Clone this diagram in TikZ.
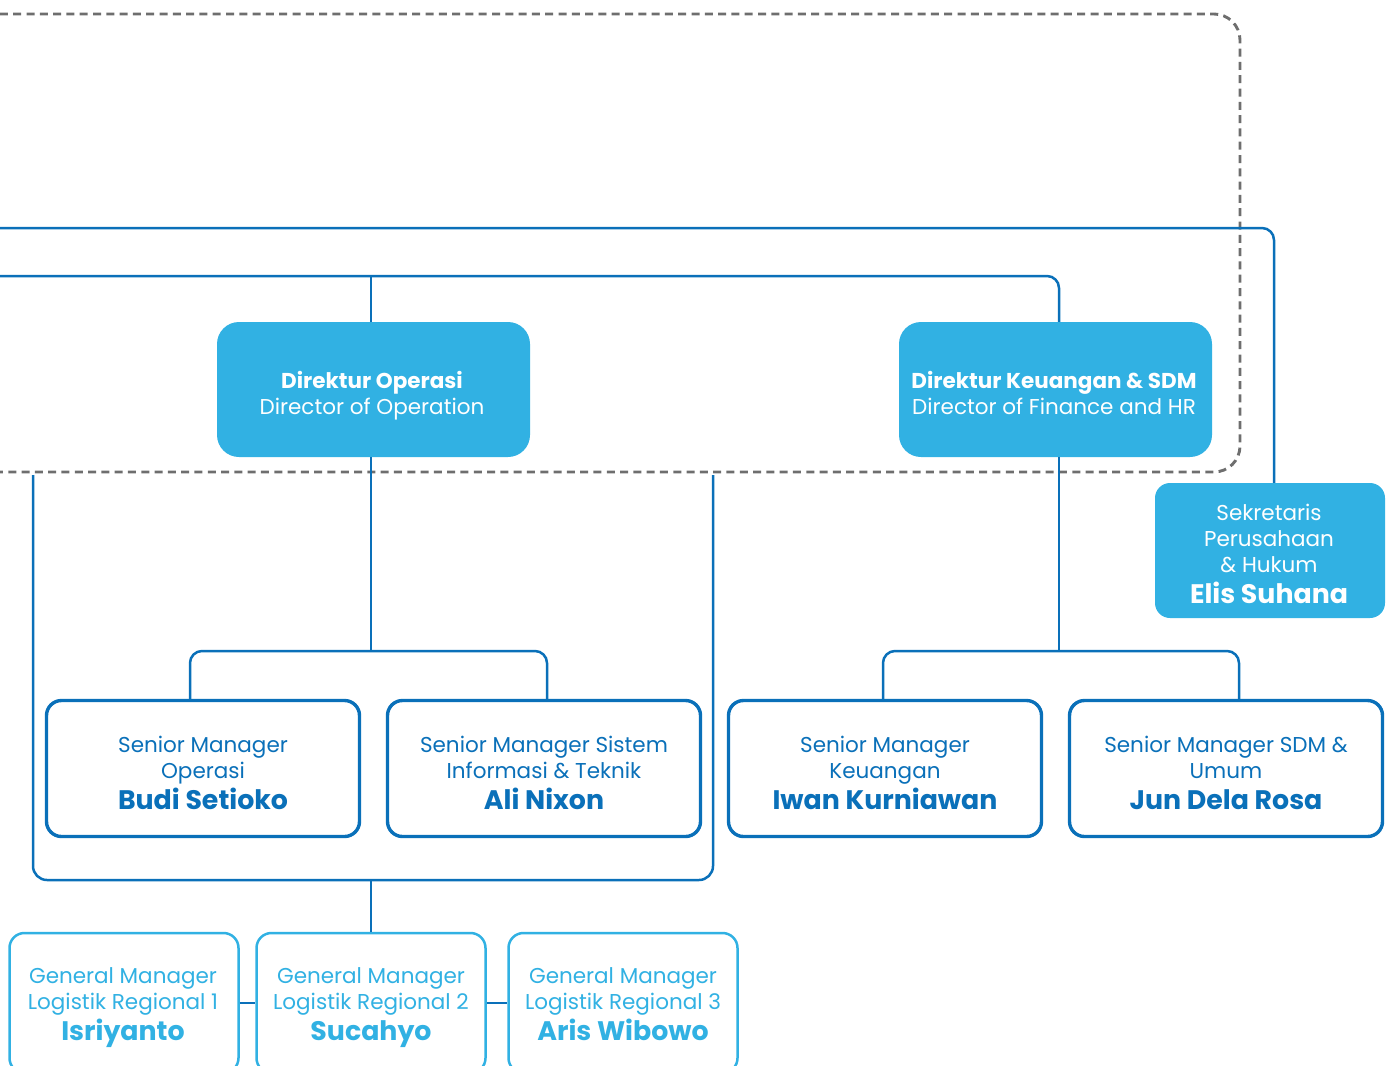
\documentclass[tikz,border=0pt]{standalone}
\usepackage{fontspec}
\setmainfont{Poppins}
\definecolor{navy}{HTML}{0A70B9}
\definecolor{sky}{HTML}{31B1E3}
\definecolor{dashgray}{HTML}{6E6E6E}
\tikzset{
  conn/.style={draw=navy, line width=2.5pt},
  director/.style={fill=sky, rounded corners=22pt, minimum width=313pt, minimum height=135pt, inner sep=0pt},
  secbox/.style={fill=sky, rounded corners=15pt, minimum width=230pt, minimum height=135pt, inner sep=0pt},
  senior/.style={draw=navy, line width=3.4pt, fill=white, rounded corners=15pt,
    minimum width=313pt, minimum height=136pt, inner sep=0pt},
  general/.style={draw=sky, line width=2.5pt, fill=white, rounded corners=15pt,
    minimum width=229pt, minimum height=140pt, inner sep=0pt},
  txt/.style={anchor=north, align=center, inner sep=0pt, font=\fontsize{21.5}{26}\selectfont}
}
% one line of regular text and one line with a person's name
\newcommand{\txtline}[1]{\strut #1}
\newcommand{\pn}[1]{{\fontsize{26.8}{32}\selectfont\bfseries\strut #1}}
\begin{document}
\begin{tikzpicture}[x=1pt, y=-1pt]
\useasboundingbox (0,0) rectangle (1391,1065);
\clip (0,0) rectangle (1391,1065);

% dashed grouping frame behind the directors
\draw[dashgray, line width=2.9pt, dash pattern=on 8pt off 5.3pt, rounded corners=26pt]
  (-40,14) -- (1240,14) -- (1240,472) -- (-40,472);

% boxes
\node[director] (dop) at (373.5,389.5) {};
\node[director] (dkeu) at (1055.5,389.5) {};
\node[secbox] (sek) at (1270,550.5) {};
\node[senior] (sm1) at (203,768.5) {};
\node[senior] (sm2) at (544,768.5) {};
\node[senior] (sm3) at (885,768.5) {};
\node[senior] (sm4) at (1226,768.5) {};
\node[general] (gm1) at (124,1003) {};
\node[general] (gm2) at (371,1003) {};
\node[general] (gm3) at (623,1003) {};

% box texts
\node[txt, text=white] (dop-t) at (372,369.8) {\txtline{\textbf{Direktur Operasi}}\\\txtline{Director of Operation}};
\node[txt, text=white] (dkeu-t) at (1054,369.8) {\txtline{\textbf{Direktur Keuangan \& SDM}}\\\txtline{Director of Finance and HR}};
\node[txt, text=white] (sek-t) at (1269,501.8) {\txtline{Sekretaris}\\\txtline{Perusahaan}\\\txtline{\& Hukum}\\\pn{Elis Suhana}};

\node[txt, text=navy] (sm1-t) at (203,733.8) {\txtline{Senior Manager}\\\txtline{Operasi}\\\pn{Budi Setioko}};
\node[txt, text=navy] (sm2-t) at (544,733.8) {\txtline{Senior Manager Sistem}\\\txtline{Informasi \& Teknik}\\\pn{Ali Nixon}};
\node[txt, text=navy] (sm3-t) at (885,733.8) {\txtline{Senior Manager}\\\txtline{Keuangan}\\\pn{Iwan Kurniawan}};
\node[txt, text=navy] (sm4-t) at (1226,733.8) {\txtline{Senior Manager SDM \&}\\\txtline{Umum}\\\pn{Jun Dela Rosa}};

\node[txt, text=sky] (gm1-t) at (123,964.8) {\txtline{General Manager}\\\txtline{Logistik Regional 1}\\\pn{Isriyanto}};
\node[txt, text=sky] (gm2-t) at (371,964.8) {\txtline{General Manager}\\\txtline{Logistik Regional 2}\\\pn{Sucahyo}};
\node[txt, text=sky] (gm3-t) at (623,964.8) {\txtline{General Manager}\\\txtline{Logistik Regional 3}\\\pn{Aris Wibowo}};

% free ends of the lines that run in from the left
\coordinate (topin) at (-40,228);
\coordinate (dirin) at (-40,276);
\coordinate (opsplit) at (371,651);
\coordinate (finsplit) at (1059,651);
\coordinate (loopl) at (33,475);
\coordinate (loopr) at (713,475);
\coordinate (loopmid) at (371,880);

% connectors
\draw[conn, rounded corners=12pt] (topin) -| ([xshift=4pt]sek.north);
\draw[conn, rounded corners=12pt] (dirin) -| ([xshift=3.5pt]dkeu.north);
\draw[conn] (dop.north -| opsplit) -- (dirin -| opsplit);

\draw[conn] (dop.south -| opsplit) -- (opsplit);
\draw[conn, rounded corners=12pt] ([xshift=-13pt]sm1.north) |- (opsplit) -| ([xshift=3pt]sm2.north);

\draw[conn] (dkeu.south -| finsplit) -- (finsplit);
\draw[conn, rounded corners=12pt] ([xshift=-2pt]sm3.north) |- (finsplit) -| ([xshift=13pt]sm4.north);

\draw[conn, rounded corners=14pt] (loopl) |- (loopmid) -| (loopr);
\draw[conn] (loopmid) -- (gm2.north);

\draw[conn] (gm1.east) -- (gm2.west);
\draw[conn] (gm2.east) -- (gm3.west);
\end{tikzpicture}
\end{document}
